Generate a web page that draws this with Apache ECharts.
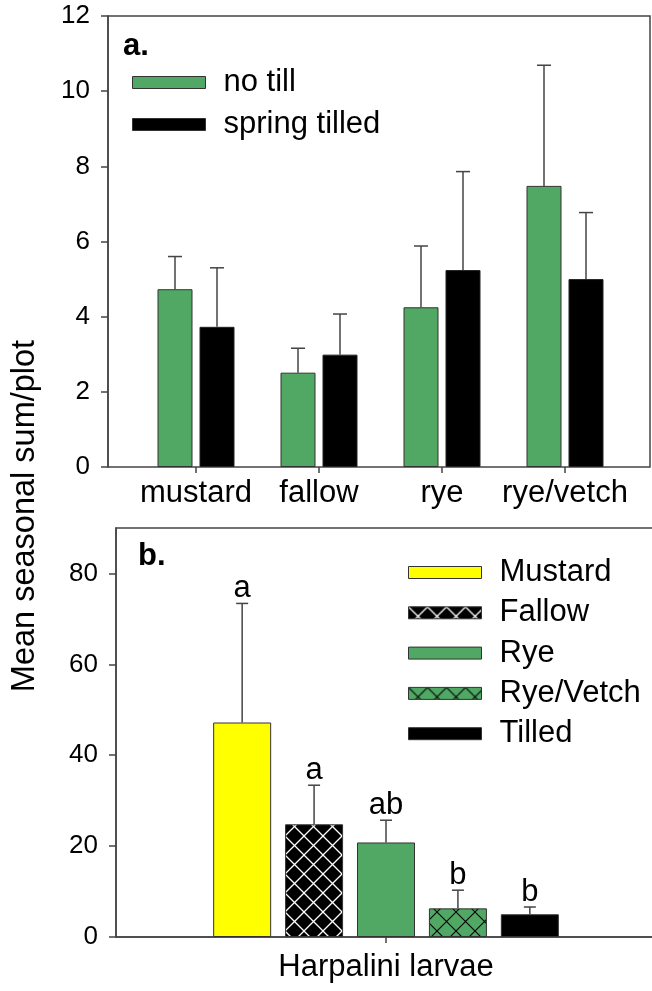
<!DOCTYPE html>
<html><head><meta charset="utf-8">
<script src="https://cdn.jsdelivr.net/npm/echarts@6/dist/echarts.min.js"></script>
<style>html,body{margin:0;padding:0;background:#fff}#c{width:652px;height:991px}</style>
</head><body><div id="c"></div>
<script>
// ---- Panel a data ----
const aCategories = ['mustard', 'fallow', 'rye', 'rye/vetch'];
const aSeriesNames = ['no till', 'spring tilled'];
const aNoTill = [4.73, 2.51, 4.25, 7.48];
const aNoTillErrTop = [5.60, 3.16, 5.88, 10.69];
const aSpring = [3.73, 2.99, 5.24, 5.00];
const aSpringErrTop = [5.30, 4.07, 7.86, 6.77];

// ---- Panel b data ----
const bCategory = ['Harpalini larvae'];
const bSeriesNames = ['Mustard', 'Fallow', 'Rye', 'Rye/Vetch', 'Tilled'];
const bMeans = [47.2, 24.8, 20.8, 6.3, 5.0];
const bErrTop = [73.4, 33.4, 25.7, 10.3, 6.6];
const bLetters = ['a', 'a', 'ab', 'b', 'b'];
const bYTicks = [0, 20, 40, 60, 80];

const FONT = 'Liberation Sans, Arial, sans-serif';
const GREEN = '#50A864';
const AXIS = '#444';

function hatch(bg, line, lw, size) {
  const c = document.createElement('canvas');
  c.width = c.height = size;
  const g = c.getContext('2d');
  g.fillStyle = bg; g.fillRect(0, 0, size, size);
  g.strokeStyle = line; g.lineWidth = lw;
  g.beginPath();
  g.moveTo(0, 0); g.lineTo(size, size);
  g.moveTo(size, 0); g.lineTo(0, size);
  g.stroke();
  return c;
}
const fallowPattern = { image: hatch('#000', '#fff', 1.3, 19), repeat: 'repeat' };
const ryeVetchPattern = { image: hatch(GREEN, '#000', 1.1, 19), repeat: 'repeat' };
const bColors = ['#FFFF00', fallowPattern, GREEN, ryeVetchPattern, '#000'];

const aBarW = 35, aGap = 0.2;
const bBarW = 58, bGap = 0.24;

function errRender(n, barW, gap, cap, letters) {
  return function (params, api) {
    const si = api.value(1);
    const base = api.coord([api.value(0), api.value(2)]);
    const top = api.coord([api.value(0), api.value(3)]);
    const x = base[0] + (si - (n - 1) / 2) * barW * (1 + gap);
    const children = [
      { type: 'line', shape: { x1: x, y1: base[1], x2: x, y2: top[1] }, style: { stroke: AXIS, lineWidth: 1.5 } },
      { type: 'line', shape: { x1: x - cap / 2, y1: top[1], x2: x + cap / 2, y2: top[1] }, style: { stroke: AXIS, lineWidth: 1.5 } }
    ];
    if (letters) {
      children.push({ type: 'text', x: x, y: top[1] + 1,
        style: { text: letters[params.dataIndex], fill: '#000', font: '31px ' + FONT, align: 'center', verticalAlign: 'bottom' } });
    }
    return { type: 'group', children: children };
  };
}

const aErrData = [];
aCategories.forEach((c, i) => {
  aErrData.push([i, 0, aNoTill[i], aNoTillErrTop[i]]);
  aErrData.push([i, 1, aSpring[i], aSpringErrTop[i]]);
});
const bErrData = bSeriesNames.map((s, i) => [0, i, bMeans[i], bErrTop[i]]);

const chart = echarts.init(document.getElementById('c'), null, { renderer: 'canvas' });
const labelStyle = { color: '#000', fontFamily: FONT };

const option = {
  animation: false,
  backgroundColor: '#fff',
  grid: [
    { left: 108, top: 16, width: 542, height: 451, show: true, borderColor: AXIS, borderWidth: 1.5, backgroundColor: 'transparent', outerBoundsMode: 'none' },
    { left: 134.5, top: 16, width: 492, height: 451, show: false, outerBoundsMode: 'none' },
    { left: 116, top: 528, width: 540, height: 409, show: true, borderColor: AXIS, borderWidth: 1.5, backgroundColor: 'transparent', outerBoundsMode: 'none' }
  ],
  xAxis: [
    { gridIndex: 0, type: 'value', min: 0, max: 1, show: false },
    { gridIndex: 1, type: 'category', data: aCategories,
      axisLine: { show: false },
      axisTick: { show: true, alignWithLabel: true, interval: 0, length: 6, lineStyle: { color: AXIS, width: 1.5 } },
      axisLabel: Object.assign({ fontSize: 31, margin: 11, interval: 0, hideOverlap: false }, labelStyle) },
    { gridIndex: 2, type: 'category', data: bCategory,
      axisLine: { show: true, lineStyle: { color: AXIS, width: 1.5 } },
      axisTick: { show: true, alignWithLabel: true, length: 6, lineStyle: { color: AXIS, width: 1.5 } },
      axisLabel: Object.assign({ fontSize: 31, margin: 15 }, labelStyle) }
  ],
  yAxis: [
    { gridIndex: 0, type: 'value', min: 0, max: 12, interval: 2,
      axisLine: { show: true, lineStyle: { color: AXIS, width: 1.5 } },
      axisTick: { show: true, inside: false, length: 7, lineStyle: { color: AXIS, width: 1.5 } },
      axisLabel: Object.assign({ fontSize: 26, margin: 18 }, labelStyle),
      splitLine: { show: false } },
    { gridIndex: 1, type: 'value', min: 0, max: 12, show: false, splitLine: { show: false } },
    { gridIndex: 2, type: 'value', min: 0, max: 90, interval: 10,
      axisLine: { show: true, lineStyle: { color: AXIS, width: 1.5 } },
      axisTick: { show: true, inside: false, length: 7, customValues: bYTicks, lineStyle: { color: AXIS, width: 1.5 } },
      axisLabel: Object.assign({ fontSize: 26, margin: 18, customValues: bYTicks }, labelStyle),
      splitLine: { show: false } }
  ],
  legend: [
    { orient: 'vertical', left: 127, top: 62, itemWidth: 73, itemHeight: 12, itemGap: 11,
      icon: 'rect', selectedMode: false, data: aSeriesNames,
      itemStyle: { borderColor: '#333', borderWidth: 1 },
      textStyle: { fontSize: 31, color: '#000', fontFamily: FONT, lineHeight: 31, padding: [0, 0, 0, 13] } },
    { orient: 'vertical', left: 403, top: 552, itemWidth: 73, itemHeight: 12, itemGap: 9.3,
      icon: 'rect', selectedMode: false, data: bSeriesNames,
      itemStyle: { borderColor: '#333', borderWidth: 1 },
      textStyle: { fontSize: 31, color: '#000', fontFamily: FONT, lineHeight: 31, padding: [0, 0, 0, 13] } }
  ],
  graphic: [
    { type: 'text', x: 25, y: 516, rotation: Math.PI / 2,
      style: { text: 'Mean seasonal sum/plot', fill: '#000', font: '32.5px ' + FONT, align: 'center', verticalAlign: 'middle' } },
    { type: 'text', x: 123, y: 46,
      style: { text: 'a.', fill: '#000', font: 'bold 31px ' + FONT, align: 'left', verticalAlign: 'middle' } },
    { type: 'text', x: 138, y: 556,
      style: { text: 'b.', fill: '#000', font: 'bold 31px ' + FONT, align: 'left', verticalAlign: 'middle' } }
  ],
  series: [
    { name: aSeriesNames[0], type: 'bar', xAxisIndex: 1, yAxisIndex: 1, data: aNoTill,
      barWidth: aBarW, barGap: (aGap * 100) + '%',
      itemStyle: { color: GREEN, borderColor: '#333', borderWidth: 1 } },
    { name: aSeriesNames[1], type: 'bar', xAxisIndex: 1, yAxisIndex: 1, data: aSpring,
      barWidth: aBarW, barGap: (aGap * 100) + '%',
      itemStyle: { color: '#000', borderColor: '#222', borderWidth: 1 } },
    { type: 'custom', xAxisIndex: 1, yAxisIndex: 1, data: aErrData, clip: false, z: 3,
      renderItem: errRender(2, aBarW, aGap, 14, null) },
    ...bSeriesNames.map((name, i) => ({
      name: name, type: 'bar', xAxisIndex: 2, yAxisIndex: 2,
      data: [bMeans[i]], barWidth: bBarW, barGap: (bGap * 100) + '%',
      itemStyle: { color: bColors[i], borderColor: '#333', borderWidth: 1 }
    })),
    { type: 'custom', xAxisIndex: 2, yAxisIndex: 2, data: bErrData, clip: false, z: 3,
      renderItem: errRender(5, bBarW, bGap, 12, bLetters) }
  ]
};
chart.setOption(option);
</script>
</body></html>
